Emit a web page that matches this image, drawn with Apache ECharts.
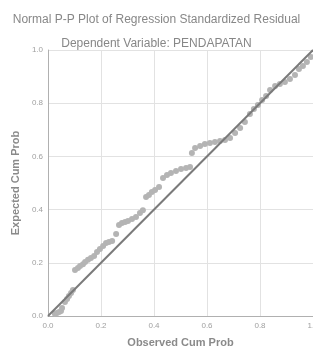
<!DOCTYPE html>
<html>
<head>
<meta charset="utf-8">
<script src="https://cdn.jsdelivr.net/npm/echarts@6/dist/echarts.min.js"></script>
<style>
html, body { margin: 0; padding: 0; background: #fff; }
#chart { width: 313px; height: 353px; }
</style>
</head>
<body>
<div id="chart"></div>
<script>
// observed / expected cumulative probabilities
var observed = [0.026, 0.034, 0.042, 0.049, 0.053, 0.064, 0.072, 0.079, 0.087, 0.094,
    0.102, 0.113, 0.121, 0.132, 0.140, 0.151, 0.162, 0.174, 0.185, 0.196,
    0.208, 0.219, 0.230, 0.242, 0.257, 0.268, 0.279, 0.291, 0.302, 0.317,
    0.332, 0.347, 0.358, 0.370, 0.381, 0.392, 0.404, 0.419, 0.434, 0.449,
    0.464, 0.483, 0.502, 0.521, 0.536, 0.543, 0.555, 0.574, 0.592, 0.611,
    0.630, 0.649, 0.668, 0.687, 0.706, 0.725, 0.743, 0.762, 0.777, 0.792,
    0.808, 0.823, 0.838, 0.857, 0.875, 0.894, 0.913, 0.932, 0.947, 0.962,
    0.977, 0.992]
var expected = [0.008, 0.011, 0.015, 0.019, 0.030, 0.053, 0.064, 0.075, 0.086, 0.098,
    0.173, 0.180, 0.188, 0.195, 0.203, 0.211, 0.218, 0.226, 0.241, 0.252,
    0.263, 0.274, 0.278, 0.282, 0.308, 0.342, 0.350, 0.353, 0.357, 0.365,
    0.372, 0.387, 0.398, 0.447, 0.455, 0.466, 0.474, 0.485, 0.519, 0.530,
    0.538, 0.545, 0.553, 0.556, 0.560, 0.613, 0.632, 0.639, 0.647, 0.650,
    0.654, 0.658, 0.662, 0.669, 0.688, 0.707, 0.729, 0.759, 0.778, 0.793,
    0.812, 0.827, 0.850, 0.865, 0.872, 0.880, 0.891, 0.906, 0.929, 0.940,
    0.955, 0.974]
var refLine = [[0, 0], [1, 1]]
var tickLabels = ['0.0', '0.2', '0.4', '0.6', '0.8', '1.0']

var points = []
for (var i = 0; i < observed.length; i++) {
    points.push([observed[i], expected[i]])
}

var font = 'Liberation Sans, Arial, sans-serif'

function axisLabel(v) {
    return tickLabels[Math.round(v * 5)]
}

var chart = echarts.init(document.getElementById('chart'))

var option = {
    animation: false,
    backgroundColor: '#fff',
    title: [{
        text: 'Normal P-P Plot of Regression Standardized Residual',
        left: 'center',
        top: 9,
        textStyle: { fontFamily: font, fontSize: 12, fontWeight: 'normal', color: '#878787' }
    }, {
        text: 'Dependent Variable: PENDAPATAN',
        left: 'center',
        top: 33,
        textStyle: { fontFamily: font, fontSize: 12, fontWeight: 'normal', color: '#878787' }
    }],
    grid: { left: 48, right: 0, top: 50, bottom: 37, outerBoundsMode: 'none', containLabel: false },
    xAxis: {
        type: 'value',
        min: 0, max: 1, interval: 0.2,
        name: 'Observed Cum Prob',
        nameLocation: 'middle',
        nameGap: 21,
        nameTextStyle: { fontFamily: font, fontSize: 11, fontWeight: 'bold', color: '#8a8a8a' },
        axisLine: { lineStyle: { color: '#b0b0b0', width: 1 } },
        axisTick: { show: false },
        axisLabel: { formatter: axisLabel, fontFamily: font, fontSize: 8, color: '#a0a0a0', margin: 6 },
        splitLine: { lineStyle: { color: '#e2e2e2' } }
    },
    yAxis: {
        type: 'value',
        min: 0, max: 1, interval: 0.2,
        name: 'Expected Cum Prob',
        nameLocation: 'middle',
        nameGap: 24,
        nameTextStyle: { fontFamily: font, fontSize: 11, fontWeight: 'bold', color: '#8a8a8a' },
        axisLine: { show: true, lineStyle: { color: '#b0b0b0', width: 1 } },
        axisTick: { show: false },
        axisLabel: { formatter: axisLabel, fontFamily: font, fontSize: 8, color: '#a0a0a0', margin: 5 },
        splitLine: { lineStyle: { color: '#e2e2e2' } }
    },
    series: [{
        type: 'scatter',
        data: points,
        symbolSize: 6,
        itemStyle: { color: '#b4b4b4', opacity: 1 },
        z: 2
    }, {
        type: 'line',
        data: refLine,
        showSymbol: false,
        lineStyle: { color: '#7a7a7a', width: 2 },
        z: 3
    }]
}

chart.setOption(option)
</script>
</body>
</html>
